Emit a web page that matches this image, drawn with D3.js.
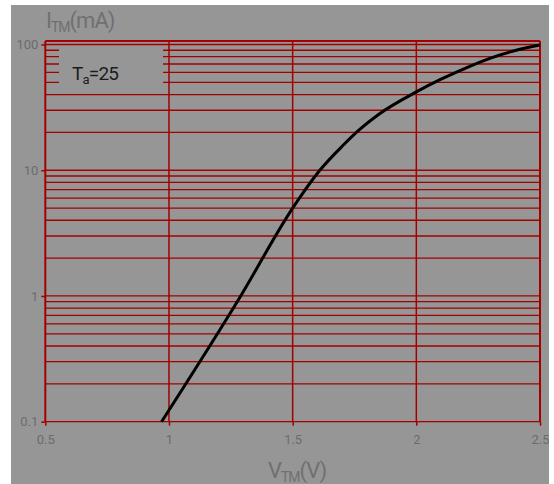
<!DOCTYPE html>
<html lang="en">
<head>
<meta charset="UTF-8" />
<title>I-V curve</title>
<script src="https://d3js.org/d3.v7.min.js"></script>
<style>
  body { margin: 0; background: #fff; }
  svg { display: block; }
  .tick text { fill: #6c6c6c; font-family: Roboto, "Open Sans", sans-serif; font-size: 13px; }
</style>
</head>
<body>
<script>
// curve: forward voltage (V) vs current (mA)
const vtm = [0.97, 1.29, 1.50, 1.61, 1.70, 1.77, 1.85, 2.0, 2.1, 2.2, 2.3, 2.4, 2.5];
const itm = [0.1, 1, 5, 10, 15.5, 21, 28, 42, 53, 65, 78, 89.5, 99];

const xTicks = [0.5, 1, 1.5, 2, 2.5];
const xTickLabels = ["0.5", "1", "1.5", "2", "2.5"];
const yTicks = [0.1, 1, 10, 100];
const yTickLabels = ["0.1", "1", "10", "100"];

const W = 554, H = 484;
const svg = d3.select("body").append("svg").attr("width", W).attr("height", H);

// gray panel
svg.append("rect").attr("x", 11).attr("y", 5).attr("width", 538).attr("height", H - 5).attr("fill", "#969696");

const x = d3.scaleLinear().domain([0.5, 2.5]).range([45.3, 540]);
const y = d3.scaleLog().domain([0.1, 100]).range([421.7, 44.5]);

// horizontal grid, 1..9 per decade
const minor = [];
[0.1, 1, 10].forEach(d => { for (let k = 1; k <= 9; k++) minor.push(d * k); });
minor.push(100);

const grid = svg.append("g");
grid.selectAll("line.h").data(minor).enter().append("line")
  .attr("class", "h")
  .attr("x1", x(0.5)).attr("x2", x(2.5))
  .attr("y1", d => y(d)).attr("y2", d => y(d))
  .attr("stroke", "#a30000").attr("stroke-width", 1.3);

grid.selectAll("line.v").data(xTicks).enter().append("line")
  .attr("class", "v")
  .attr("x1", d => x(d)).attr("x2", d => x(d))
  .attr("y1", 41).attr("y2", y(0.1))
  .attr("stroke", "#a30000").attr("stroke-width", d => (d === 0.5 || d === 2.5) ? 2 : 1.5);

// top frame
grid.append("line").attr("x1", x(0.5)).attr("x2", x(2.5)).attr("y1", 41).attr("y2", 41)
  .attr("stroke", "#a30000").attr("stroke-width", 2);

// legend box (hides grid lines behind it)
svg.append("rect").attr("x", 59).attr("y", 47).attr("width", 104).attr("height", 41).attr("fill", "#969696");
const leg = svg.append("text").attr("x", 72).attr("y", 80)
  .attr("font-family", "Roboto, sans-serif").attr("font-size", 19).attr("fill", "#1c1c1c")
  .attr("letter-spacing", -0.8);
leg.append("tspan").text("T");
leg.append("tspan").attr("font-size", 13).attr("dy", 4).text("a");
leg.append("tspan").attr("dy", -4).text("=25");

// axes
const xAxis = d3.axisBottom(x).tickValues(xTicks).tickFormat((d, i) => xTickLabels[i]).tickSize(4).tickPadding(9);
const yAxis = d3.axisLeft(y).tickValues(yTicks).tickFormat((d, i) => yTickLabels[i]).tickSize(4).tickPadding(3);

const gx = svg.append("g").attr("transform", `translate(0,${y(0.1)})`).call(xAxis);
const gy = svg.append("g").attr("transform", `translate(${x(0.5)},0)`).call(yAxis);
[gx, gy].forEach(g => {
  g.select(".domain").remove();
  g.selectAll(".tick line").attr("stroke", "#a30000").attr("stroke-width", 1.5);
});

// curve
svg.append("path")
  .datum(vtm.map((v, i) => [v, itm[i]]))
  .attr("fill", "none").attr("stroke", "#000").attr("stroke-width", 3)
  .attr("d", d3.line().x(d => x(d[0])).y(d => y(d[1])).curve(d3.curveMonotoneX));

// axis titles
const ty = svg.append("text").attr("x", 46).attr("y", 28)
  .attr("font-family", "Roboto, sans-serif").attr("font-size", 22).attr("fill", "#707070")
  .attr("letter-spacing", -1);
ty.append("tspan").text("I");
ty.append("tspan").attr("font-size", 14).attr("dy", 4).text("TM");
ty.append("tspan").attr("dy", -4).text("(mA)");

const tx = svg.append("text").attr("x", 297).attr("y", 478).attr("text-anchor", "middle")
  .attr("font-family", "Roboto, sans-serif").attr("font-size", 22).attr("fill", "#707070")
  .attr("letter-spacing", -1);
tx.append("tspan").text("V");
tx.append("tspan").attr("font-size", 14).attr("dy", 4).text("TM");
tx.append("tspan").attr("dy", -4).text("(V)");

// white strip on the right, cuts the last tick label like the original
svg.append("rect").attr("x", 549).attr("y", 0).attr("width", W - 549).attr("height", H).attr("fill", "#fff");
</script>
</body>
</html>
